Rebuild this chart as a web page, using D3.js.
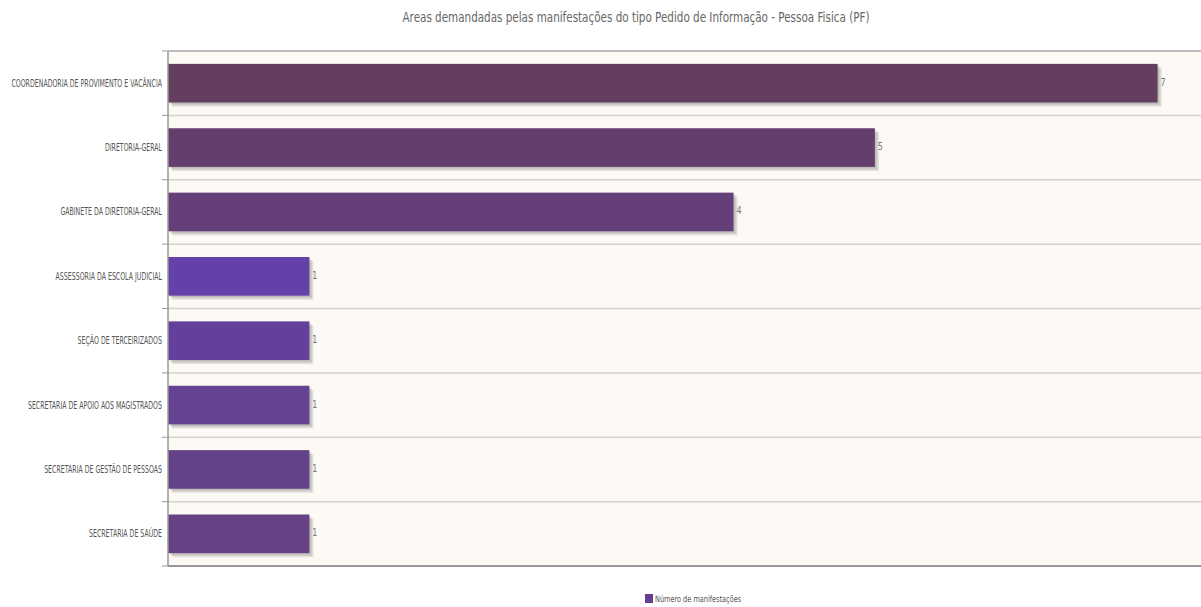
<!DOCTYPE html>
<html>
<head>
<meta charset="utf-8">
<script src="https://cdn.jsdelivr.net/npm/d3@7"></script>
<style>
  html, body { margin: 0; padding: 0; background: #ffffff; }
  svg { display: block; }
  text { font-family: "DejaVu Sans", sans-serif; }
</style>
</head>
<body>
<svg id="chart" width="1201" height="607"></svg>
<script>
// data
const title = "Areas demandadas pelas manifestações do tipo Pedido de Informação - Pessoa Fisica (PF)";
const categories = [
    "COORDENADORIA DE PROVIMENTO E VACÂNCIA",
    "DIRETORIA-GERAL",
    "GABINETE DA DIRETORIA-GERAL",
    "ASSESSORIA DA ESCOLA JUDICIAL",
    "SEÇÃO DE TERCEIRIZADOS",
    "SECRETARIA DE APOIO AOS MAGISTRADOS",
    "SECRETARIA DE GESTÃO DE PESSOAS",
    "SECRETARIA DE SAÚDE"
];
const values = [7, 5, 4, 1, 1, 1, 1, 1];
const barColors = ["#633e5f", "#643f6d", "#653f7a", "#6441a8", "#64409c", "#654292", "#634288", "#644284"];
const seriesName = "Número de manifestações";
const legendColor = "#643f90";

const svg = d3.select("#chart");
const m = { top: 51, right: 1, bottom: 41, left: 168 };
const W = 1201, H = 607;

const x = d3.scaleLinear().domain([0, 7.3]).range([m.left, W - m.right]);
const y = d3.scaleBand().domain(categories)
    .range([m.top, H - m.bottom])
    .paddingInner(0.4).paddingOuter(0.2);
const step = y.step();
const rowTop = d => y(d) - step * 0.2;

// plot background
svg.append("rect")
    .attr("x", m.left).attr("y", m.top)
    .attr("width", W - m.right - m.left).attr("height", H - m.bottom - m.top)
    .attr("fill", "#fdf9f5");

// grid lines at row boundaries
svg.append("g").selectAll("line")
    .data(categories.slice(1))
    .join("line")
    .attr("x1", m.left).attr("x2", W)
    .attr("y1", d => rowTop(d)).attr("y2", d => rowTop(d))
    .attr("stroke", "#d6d1cc").attr("stroke-width", 1.5);

// bar shadows
const shadowG = svg.append("g");
[1, 2, 3].forEach(k => {
    shadowG.append("g").selectAll("rect")
        .data(categories)
        .join("rect")
        .attr("x", x(0) + k * 1.4)
        .attr("y", d => y(d) + k * 1.4)
        .attr("width", (d, i) => x(values[i]) - x(0))
        .attr("height", y.bandwidth())
        .attr("fill", "#000").attr("opacity", 0.09);
});

// bars
svg.append("g").selectAll("rect")
    .data(categories)
    .join("rect")
    .attr("x", x(0))
    .attr("y", d => y(d))
    .attr("width", (d, i) => x(values[i]) - x(0))
    .attr("height", y.bandwidth())
    .attr("fill", (d, i) => barColors[i]);

// value labels
svg.append("g").selectAll("text")
    .data(categories)
    .join("text")
    .attr("transform", (d, i) => `translate(${x(values[i]) + 3},${y(d) + y.bandwidth() / 2 - 1}) scale(0.8,1)`)
    .attr("dy", "0.35em")
    .attr("font-size", 10)
    .attr("fill", "#777")
    .text((d, i) => values[i]);

// border lines
svg.append("line")
    .attr("x1", m.left).attr("x2", W)
    .attr("y1", m.top).attr("y2", m.top)
    .attr("stroke", "#a8a8a8").attr("stroke-width", 1.5);
svg.append("line")
    .attr("x1", m.left).attr("x2", W)
    .attr("y1", H - m.bottom).attr("y2", H - m.bottom)
    .attr("stroke", "#999").attr("stroke-width", 2);

// category axis
const yAxisG = svg.append("g").attr("transform", `translate(${m.left},0)`);
yAxisG.append("line")
    .attr("x1", 0).attr("x2", 0)
    .attr("y1", m.top).attr("y2", H - m.bottom)
    .attr("stroke", "#999").attr("stroke-width", 1.5);
yAxisG.selectAll("line.tick")
    .data(categories.map(rowTop).concat([H - m.bottom]))
    .join("line").attr("class", "tick")
    .attr("x1", -6).attr("x2", 0)
    .attr("y1", d => d).attr("y2", d => d)
    .attr("stroke", "#999").attr("stroke-width", 1);
yAxisG.selectAll("text")
    .data(categories)
    .join("text")
    .attr("text-anchor", "end")
    .attr("transform", d => `translate(-6,${y(d) + y.bandwidth() / 2}) scale(0.625,1)`)
    .attr("dy", "0.35em")
    .attr("font-size", 10)
    .attr("fill", "#555")
    .text(d => d);

// title
svg.append("text")
    .attr("transform", "translate(636,22) scale(0.77,1)")
    .attr("text-anchor", "middle")
    .attr("font-size", 13.5)
    .attr("fill", "#666")
    .text(title);

// legend
const legend = svg.append("g").attr("transform", "translate(645,594)");
legend.append("rect")
    .attr("width", 8).attr("height", 9)
    .attr("fill", legendColor);
legend.append("text")
    .attr("transform", "translate(10,5) scale(0.73,1)")
    .attr("dy", "0.35em")
    .attr("font-size", 9)
    .attr("fill", "#555")
    .text(seriesName);
</script>
</body>
</html>
